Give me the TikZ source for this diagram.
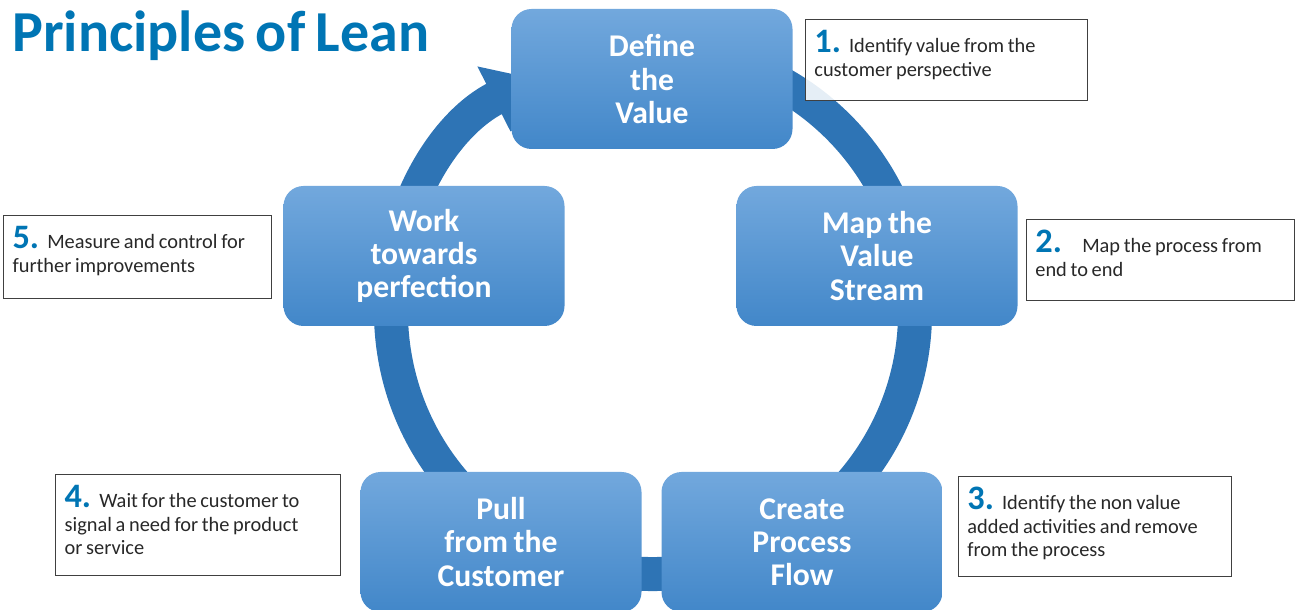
\documentclass[tikz,border=0pt]{standalone}
\usepackage{fontspec}
\setmainfont{Carlito}[WordSpace=0.8]
\usetikzlibrary{arrows.meta,positioning}

\definecolor{leanblue}{RGB}{0,117,180}
\definecolor{ringblue}{RGB}{46,116,181}
\definecolor{boxtop}{RGB}{114,168,221}
\definecolor{boxbottom}{RGB}{66,135,201}
\definecolor{notetext}{RGB}{40,40,40}

% big blue number in front of each note
\newcommand{\noteno}[1]{{\color{leanblue}\fontsize{19.5}{20}\selectfont\bfseries #1.}}

\begin{document}
\begin{tikzpicture}[
    stage/.style={rectangle, rounded corners=0.4cm, top color=boxtop, bottom color=boxbottom, minimum width=5.62cm, minimum height=2.8cm, align=center, text=white, font=\fontsize{18}{18.8}\selectfont\bfseries},
    note/.style={rectangle, draw=black!75, line width=0.6pt, fill=white, fill opacity=0.88, text opacity=1, align=flush left, inner xsep=0.18cm, inner ysep=0.2cm, text height=0.46cm, text=notetext, font=\fontsize{11.6}{13.6}\selectfont},
    ring/.style={line width=0.68cm, draw=ringblue}
]
\useasboundingbox (0,0) rectangle (25.92,12.18);

% Title
\node[anchor=base west, inner sep=0pt, text=leanblue, font=\fontsize{33}{36}\selectfont\bfseries] (title) at (0.24,11.14) {Principles of Lean};

% Cycle ring with its arrow
\coordinate (hub) at (13.06,5.94);
\draw[ring, -{Triangle[width=1.4cm,length=0.9cm]}] (hub) ++(100:5.24) arc[start angle=100, end angle=-243, radius=5.24];

% Stages of the cycle
\node[stage] (define) at (13.04,10.6) {Define\\the\\Value};
\node[stage] (map) at (17.54,7.06) {Map the\\Value\\Stream};
\node[stage] (create) at (16.04,1.34) {Create\\Process\\Flow};
\node[stage] (pull) at (10.02,1.34) {Pull\\from the\\Customer};
\node[stage] (work) at (8.48,7.06) {Work\\towards\\perfection};

% Notes beside the stages
\node[note, text width=5.28cm, text depth=0.76cm, below right=0.2cm and 0.24cm of define.north east] (note1) {\noteno{1}\hspace{0.4em}Identify value from the\\customer perspective};
\node[note, text width=5cm, text depth=0.76cm, below right=0.66cm and 0.16cm of map.north east] (note2) {\noteno{2}\hspace{1em}Map the process from\\end to end};
\node[note, text width=5.1cm, text depth=1.14cm, below right=0.08cm and 0.3cm of create.north east] (note3) {\noteno{3}\hspace{0.4em}Identify the non value\\added activities and remove\\from the process};
\node[note, text width=5.34cm, text depth=1.16cm, below left=0.04cm and 0.38cm of pull.north west] (note4) {\noteno{4}\hspace{0.4em}Wait for the customer to\\signal a need for the product\\or service};
\node[note, text width=5cm, text depth=0.8cm, below left=0.58cm and 0.22cm of work.north west] (note5) {\noteno{5}\hspace{0.4em}Measure and control for\\further improvements};
\end{tikzpicture}
\end{document}
